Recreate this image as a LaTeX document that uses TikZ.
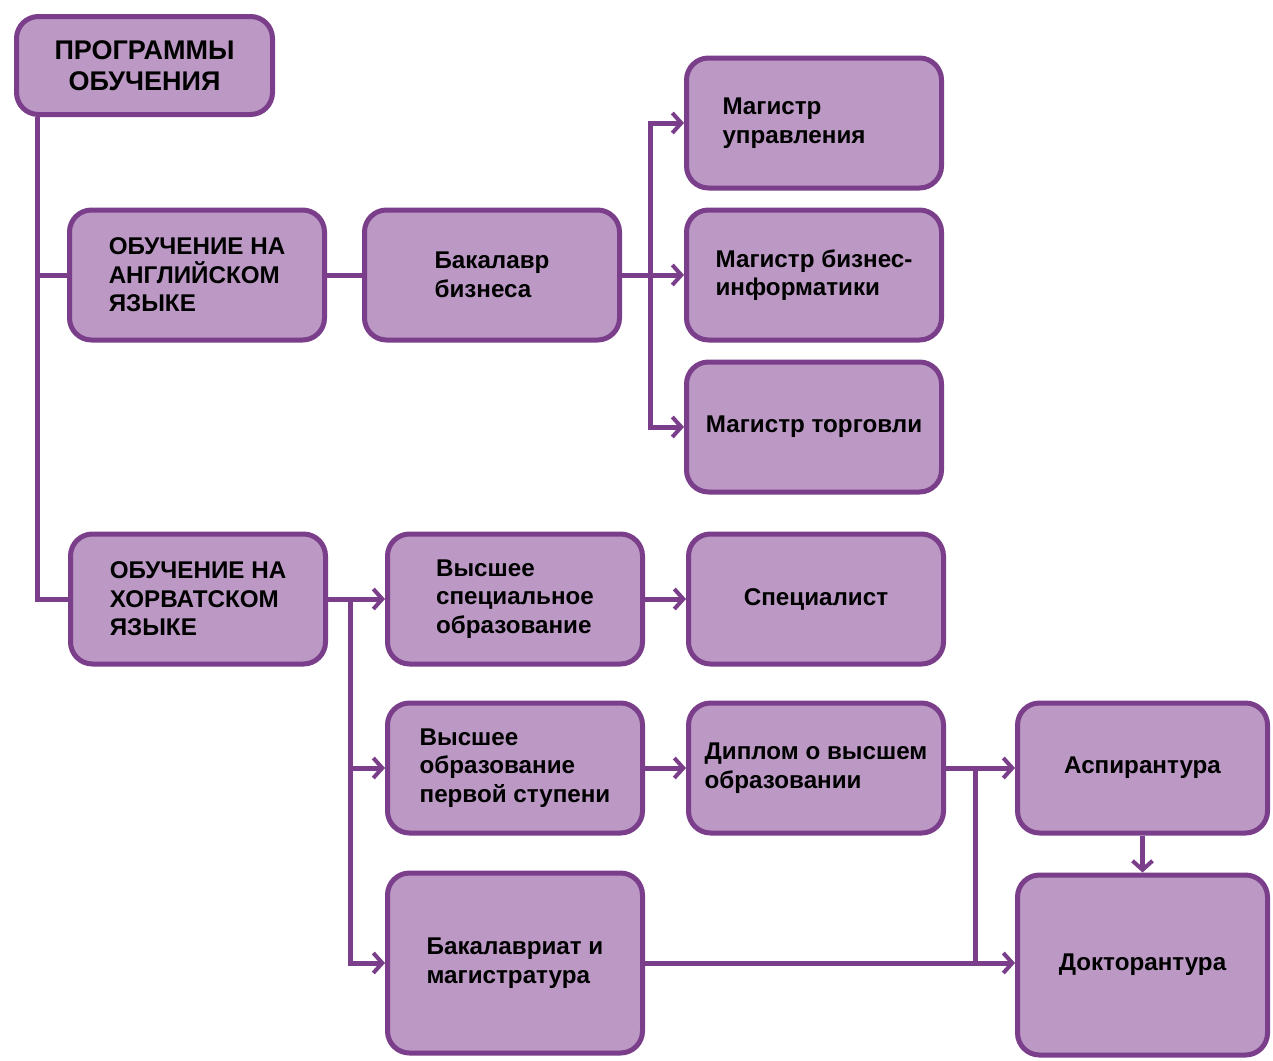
\documentclass[tikz,border=0pt]{standalone}
\usepackage{fontspec}
\setmainfont{Liberation Sans}
\usetikzlibrary{positioning,arrows.meta}
\definecolor{mauve}{HTML}{BB99C4}
\definecolor{plum}{HTML}{7A3E8A}
\tikzset{
  box/.style={draw=plum, fill=mauve, line width=5pt, rounded corners=22pt,
    minimum width=255pt, minimum height=130pt, align=left,
    font=\fontsize{24.2}{28.5}\selectfont\bfseries},
  tall/.style={minimum height=180pt},
  wire/.style={draw=plum, line width=5pt},
  arr/.style={wire, -{Straight Barb[length=9pt,width=20pt,line width=4pt]}}
}

\begin{document}
\begin{tikzpicture}[x=1pt, y=-1pt]
\useasboundingbox (0,0) rectangle (1273,1060);

	\node [box, minimum width=256pt, minimum height=98pt, align=center,
	       font=\fontsize{27}{30.5}\selectfont\bfseries] (root) at (144.5,65.5) {ПРОГРАММЫ\\ОБУЧЕНИЯ};

	\node [box] (eng) at (197,275) {ОБУЧЕНИЕ НА\\АНГЛИЙСКОМ\\ЯЗЫКЕ};
	\node [box, right=35pt of eng] (bak) {Бакалавр\\бизнеса};

	\node [box, right=62pt of bak] (mbi) {Магистр бизнес-\\информатики};
	\node [box, above=17pt of mbi] (mupr) {Магистр\\управления\hspace*{40pt}};
	\node [box, below=17pt of mbi] (mtorg) {Магистр торговли};

	\node [box] (hr) at (198,599) {ОБУЧЕНИЕ НА\\ХОРВАТСКОМ\\ЯЗЫКЕ};
	\node [box, right=57pt of hr] (vso) {Высшее\\специальное\\образование};
	\node [box, right=41pt of vso] (spec) {Специалист};

	\node [box, below=34pt of vso] (vo1) {Высшее\\образование\\первой ступени};
	\node [box, right=41pt of vo1] (dipl) {Диплом о высшем\\образовании};
	\node [box, minimum width=250pt, right=69pt of dipl] (asp) {Аспирантура};

	\node [box, tall, below=35pt of vo1] (bm) {Бакалавриат и\\магистратура};
	\node [box, tall, minimum width=250pt, below=37pt of asp] (dokt) {Докторантура};

	\coordinate (t0) at ([xshift=23pt]root.south west);
	\coordinate (b0) at ([xshift=28pt]bak.east);
	\coordinate (h0) at ([xshift=22pt]hr.east);
	\coordinate (d0) at ([xshift=29pt]dipl.east);

	\draw [wire] (t0) |- (hr.west);
	\draw [wire] (t0 |- eng.west) -- (eng.west);
	\draw [wire] (eng) -- (bak);

	\draw [arr] (bak.east) -- (mbi.west);
	\draw [arr] (b0) |- (mupr.west);
	\draw [arr] (b0) |- (mtorg.west);

	\draw [arr] (hr.east) -- (vso.west);
	\draw [arr] (h0) |- (vo1.west);
	\draw [arr] (h0) |- (bm.west);

	\draw [arr] (vso) -- (spec);
	\draw [arr] (vo1) -- (dipl);
	\draw [arr] (dipl) -- (asp);
	\draw [arr] (bm.east) -- (bm.east -| dokt.west);
	\draw [wire] (d0) -- (d0 |- bm.east);
	\draw [arr] (asp) -- (dokt);

\end{tikzpicture}
\end{document}
